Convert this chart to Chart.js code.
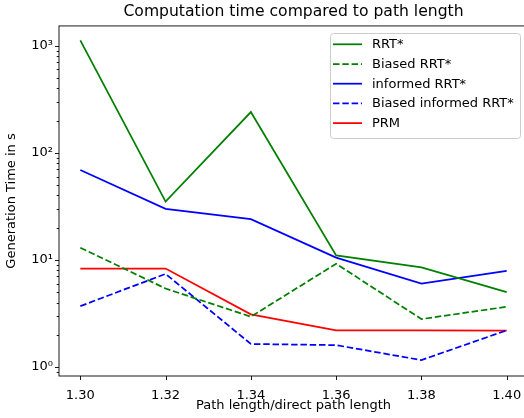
<!DOCTYPE html>
<html>
<head>
<meta charset="utf-8">
<script src="https://cdn.jsdelivr.net/npm/chart.js@4"></script>
<style>
  html, body { margin: 0; padding: 0; background: #fff; overflow: hidden; }
  #wrap { width: 524px; height: 418px; overflow: hidden; }
</style>
</head>
<body>
<div id="wrap"><canvas id="time-chart" width="540" height="418"></canvas></div>
<script>
"use strict";

// path length / direct path length
const path_ratio = [1.30, 1.32, 1.34, 1.36, 1.38, 1.40];

// generation time in s
const rrt_star = [1120, 35, 240, 11, 8.5, 5.0];
const biased_rrt_star = [13, 5.4, 2.95, 9.2, 2.8, 3.65];
const informed_rrt_star = [69, 30, 24, 10.5, 6.0, 7.9];
const biased_informed_rrt_star = [3.7, 7.4, 1.64, 1.6, 1.16, 2.2];
const prm = [8.3, 8.3, 3.1, 2.2, 2.2, 2.18];

const x_ticks = [1.30, 1.32, 1.34, 1.36, 1.38, 1.40];
const y_ticks = [1, 10, 100, 1000];
const y_minor = [0.9, 2, 3, 4, 5, 6, 7, 8, 9, 20, 30, 40, 50, 60, 70, 80, 90,
                 200, 300, 400, 500, 600, 700, 800, 900];

const font_family = '"DejaVu Sans", sans-serif';
const label_size = 13;
const sup = {'0': '\u2070', '1': '\u00b9', '2': '\u00b2', '3': '\u00b3'};

function points (values) {
    return values.map((v, i) => ({x: path_ratio[i], y: v}));
}

function line_set (label, values, color, dashed) {
    return {
        label: label,
        data: points(values),
        borderColor: color,
        backgroundColor: color,
        borderWidth: 1.75,
        borderDash: dashed ? [6.5, 2.8] : [],
        pointRadius: 0,
        pointHoverRadius: 0,
        tension: 0,
        fill: false,
    };
}

// frame, tick marks and legend, drawn the matplotlib way
const axes_decor = {
    id: 'axes_decor',
    afterDraw (chart) {
        const ctx = chart.ctx;
        const area = chart.chartArea;
        const xs = chart.scales.x;
        const ys = chart.scales.y;
        ctx.save();
        ctx.strokeStyle = '#000';
        ctx.lineWidth = 0.9;
        ctx.strokeRect(area.left, area.top, area.right - area.left, area.bottom - area.top);

        ctx.beginPath();
        x_ticks.forEach((v) => {
            const px = Math.round(xs.getPixelForValue(v)) + 0.5;
            ctx.moveTo(px, area.bottom);
            ctx.lineTo(px, area.bottom + 4);
        });
        y_ticks.forEach((v) => {
            const py = Math.round(ys.getPixelForValue(v)) + 0.5;
            ctx.moveTo(area.left, py);
            ctx.lineTo(area.left - 4, py);
        });
        y_minor.forEach((v) => {
            if (v < ys.min || v > ys.max) return;
            const py = Math.round(ys.getPixelForValue(v)) + 0.5;
            ctx.moveTo(area.left, py);
            ctx.lineTo(area.left - 2.3, py);
        });
        ctx.stroke();

        // legend box
        const bx = 330, by = 33, bw = 190, bh = 105;
        ctx.beginPath();
        ctx.roundRect(bx + 0.5, by + 0.5, bw, bh, 3);
        ctx.fillStyle = 'rgba(255,255,255,0.8)';
        ctx.fill();
        ctx.strokeStyle = '#cccccc';
        ctx.lineWidth = 1;
        ctx.stroke();

        ctx.font = label_size + 'px ' + font_family;
        ctx.textBaseline = 'middle';
        ctx.textAlign = 'left';
        chart.data.datasets.forEach((ds, i) => {
            const y = 44.3 + i * 19.7;
            ctx.beginPath();
            ctx.strokeStyle = ds.borderColor;
            ctx.lineWidth = ds.borderWidth;
            ctx.setLineDash(ds.borderDash);
            ctx.moveTo(333, y);
            ctx.lineTo(362, y);
            ctx.stroke();
            ctx.setLineDash([]);
            ctx.fillStyle = '#000';
            ctx.fillText(ds.label, 372, y + 0.5);
        });
        ctx.restore();
    }
};

const time_chart_ctx = document.getElementById('time-chart').getContext('2d');
const time_chart = new Chart(time_chart_ctx, {
    type: 'line',
    data: {
        datasets: [
            line_set('RRT*', rrt_star, '#008000', false),
            line_set('Biased RRT*', biased_rrt_star, '#008000', true),
            line_set('informed RRT*', informed_rrt_star, '#0000ff', false),
            line_set('Biased informed RRT*', biased_informed_rrt_star, '#0000ff', true),
            line_set('PRM', prm, '#ff0000', false),
        ]
    },
    options: {
        responsive: false,
        animation: false,
        events: [],
        layout: {padding: {left: 0, right: 12, top: 0, bottom: 0}},
        plugins: {
            legend: {display: false},
            tooltip: {enabled: false},
            title: {
                display: true,
                fullSize: false,
                text: 'Computation time compared to path length',
                color: '#000',
                font: {family: font_family, size: 15.6, weight: 'normal', lineHeight: 1.15},
                padding: {top: 3, bottom: 5},
            },
        },
        scales: {
            x: {
                type: 'linear',
                min: 1.295,
                max: 1.405,
                grid: {display: false, drawTicks: false},
                border: {display: false},
                afterBuildTicks: (scale) => {
                    scale.ticks = x_ticks.map((v) => ({value: v}));
                },
                afterFit: (scale) => { scale.height = 42; },
                ticks: {
                    color: '#000',
                    padding: 12,
                    maxRotation: 0,
                    font: {family: font_family, size: label_size},
                    callback: (v) => Number(v).toFixed(2),
                },
                title: {
                    display: true,
                    text: 'Path length/direct path length',
                    color: '#000',
                    font: {family: font_family, size: label_size, lineHeight: 1.2},
                    padding: {top: 0, bottom: 5},
                },
            },
            y: {
                type: 'logarithmic',
                min: 0.824,
                max: 1528,
                grid: {display: false, drawTicks: false},
                border: {display: false},
                afterBuildTicks: (scale) => {
                    scale.ticks = y_ticks.map((v) => ({value: v}));
                },
                afterFit: (scale) => { scale.width = 59; },
                ticks: {
                    color: '#000',
                    padding: 6,
                    font: {family: font_family, size: label_size},
                    callback: (v) => '10' + String(Math.round(Math.log10(v))).split('').map((c) => sup[c]).join(''),
                },
                title: {
                    display: true,
                    text: 'Generation Time in s',
                    color: '#000',
                    font: {family: font_family, size: label_size, lineHeight: 1.2},
                    padding: {top: 4, bottom: 0},
                },
            },
        },
    },
    plugins: [axes_decor],
});
</script>
</body>
</html>
